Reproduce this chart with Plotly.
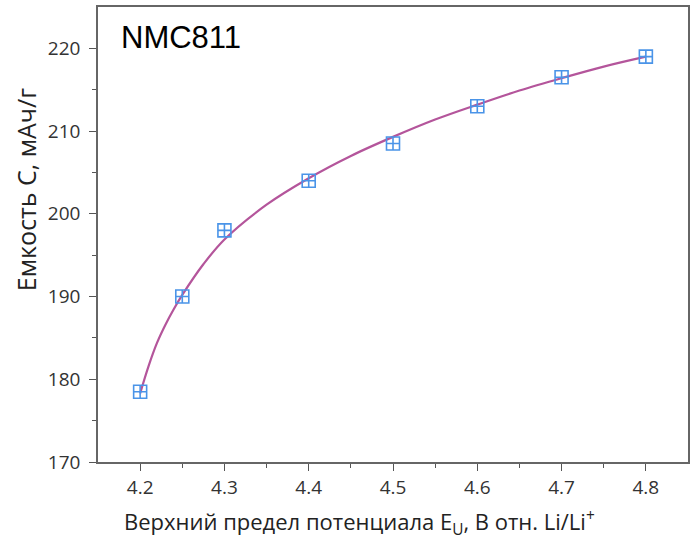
import plotly.graph_objects as go

# Measured points
voltage = [4.2, 4.25, 4.3, 4.4, 4.5, 4.6, 4.7, 4.8]
capacity = [178.5, 190.0, 198.0, 204.0, 208.5, 213.0, 216.5, 219.0]

# Fitted curve
fit_x = [4.20, 4.21, 4.22, 4.23, 4.24, 4.25, 4.275, 4.30, 4.35, 4.40, 4.45,
         4.50, 4.55, 4.60, 4.65, 4.70, 4.75, 4.80]
fit_y = [178.3, 181.6, 184.4, 186.6, 188.5, 190.2, 193.9, 196.9, 201.1, 204.3,
         207.0, 209.3, 211.4, 213.2, 214.9, 216.4, 217.8, 219.0]

x_ticks = [4.2, 4.3, 4.4, 4.5, 4.6, 4.7, 4.8]
y_ticks = [170, 180, 190, 200, 210, 220]

fig = go.Figure()
fig.add_trace(go.Scatter(x=fit_x, y=fit_y, mode="lines", line=dict(color="#b4559b", width=2.2, shape="spline"),
                         showlegend=False, hoverinfo="skip"))
fig.add_trace(go.Scatter(x=voltage, y=capacity, mode="markers",
                         marker=dict(symbol="square-cross-open", size=13, color="#4a94e8", line=dict(width=1.6)),
                         showlegend=False))

tickfont = dict(family="Open Sans", size=19, color="#333333")
titlefont = dict(family="Open Sans", size=22, color="#222222")
fig.update_layout(
    width=692, height=542,
    margin=dict(l=98, r=2, t=7, b=80),
    plot_bgcolor="white", paper_bgcolor="white",
    xaxis=dict(range=[4.15, 4.85], tickvals=x_ticks, ticktext=[f"{v:.1f}" for v in x_ticks],
               showgrid=False, zeroline=False, showline=True, linecolor="#666666", linewidth=1.5, mirror=True,
               ticks="outside", ticklen=7, tickwidth=1.3, tickcolor="#555555", tickfont=tickfont,
               ticklabelstandoff=0,
               minor=dict(tickvals=[4.25, 4.35, 4.45, 4.55, 4.65, 4.75], ticks="outside", ticklen=4, tickcolor="#555555", tickwidth=1.2)),
    yaxis=dict(range=[170, 225], tickvals=y_ticks, showgrid=False, zeroline=False, showline=True,
               linecolor="#666666", linewidth=1.5, mirror=True,
               ticks="outside", ticklen=7, tickwidth=1.3, tickcolor="#555555", tickfont=tickfont,
               ticklabelstandoff=5,
               minor=dict(tickvals=[175, 185, 195, 205, 215], ticks="outside", ticklen=4, tickcolor="#555555", tickwidth=1.2)),
    annotations=[
        dict(text="NMC811", x=0.035, y=0.934, xref="paper", yref="paper", xanchor="left", yanchor="middle",
             showarrow=False, font=dict(family="Liberation Sans", size=31, color="black")),
        dict(text="Верхний предел потенциала E<sub>U</sub>, В отн. Li/Li<sup>+</sup>",
             x=0.443, y=522, xref="paper", yref="paper", xanchor="center", yanchor="middle",
             showarrow=False, font=titlefont),
        dict(text="Емкость C, мАч/г", x=26, y=0.598, xref="paper", yref="paper", textangle=-90,
             xanchor="center", yanchor="middle", showarrow=False, font=dict(family="Open Sans", size=25, color="#222222")),
    ],
)
# convert pixel positions for the title annotations into paper coords
plot_w = 692 - 98 - 2
plot_h = 542 - 7 - 80
fig.layout.annotations[1].y = 1 - (522 - 7) / plot_h
fig.layout.annotations[2].x = (26 - 98) / plot_w

fig.write_html("out.html")
